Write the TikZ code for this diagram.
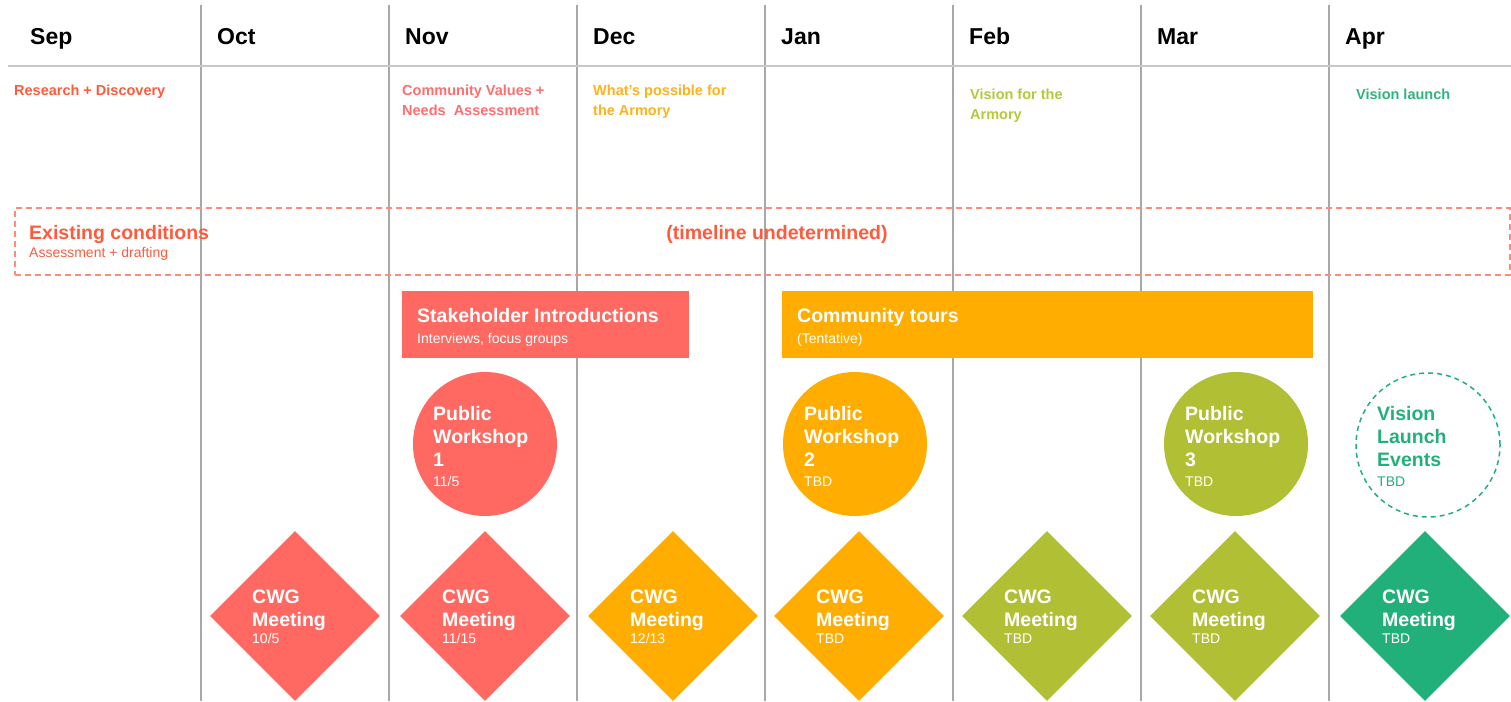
\documentclass[tikz,border=0pt]{standalone}
\usepackage{fontspec}
\setmainfont{Liberation Sans}
\usetikzlibrary{shapes.geometric,calc}
\definecolor{cCoral}{HTML}{FF6961}
\definecolor{cAmber}{HTML}{FFAD00}
\definecolor{cOlive}{HTML}{B0BF33}
\definecolor{cGreen}{HTML}{22B07A}
\definecolor{cGrid}{HTML}{A8A8A8}
\definecolor{cRule}{HTML}{C8C8C8}
\definecolor{tRed}{HTML}{FF5A3C}
\definecolor{tPink}{HTML}{FF6E6E}
\definecolor{tAmber}{HTML}{FFB21A}
\definecolor{tOlive}{HTML}{B5C83A}
\definecolor{tGreen}{HTML}{2CB57F}
\definecolor{cDash}{HTML}{FF8C7A}
\tikzset{
  month/.style={font=\fontsize{23}{27}\selectfont\bfseries, anchor=base west, inner sep=0},
  phase/.style={font=\fontsize{14.5}{20}\selectfont\bfseries, anchor=base west, align=left, inner sep=0},
  gridline/.style={draw=cGrid, line width=1.5pt},
  wlabel/.style={text=white, font=\fontsize{19.5}{23}\selectfont\bfseries, align=left, anchor=base west, inner sep=0},
  small/.style={font=\fontsize{14}{16}\selectfont, anchor=base west, inner sep=0},
  workshop/.style={circle, minimum size=144pt, inner sep=0},
  cwg/.style={diamond, minimum width=170pt, minimum height=170pt, inner sep=0},
  bar/.style={rectangle, anchor=north west, inner sep=0},
  bartitle/.style={anchor=base west, inner sep=0, font=\fontsize{19.5}{23}\selectfont\bfseries}
}
\begin{document}
\begin{tikzpicture}[x=1pt,y=-1pt]
\useasboundingbox (0,0) rectangle (1511,701);
% grid
\foreach \gx in {201,389,577,765,953,1141,1329}{
  \draw[gridline] (\gx,5) -- (\gx,701);
}
\draw[draw=cRule, line width=2.5pt] (8,66) -- (1511,66);
% months
\node[month] (m1) at (30,45) {Sep};
\node[month] (m2) at (217,45) {Oct};
\node[month] (m3) at (405,45) {Nov};
\node[month] (m4) at (593,45) {Dec};
\node[month] (m5) at (781,45) {Jan};
\node[month] (m6) at (969,45) {Feb};
\node[month] (m7) at (1157,45) {Mar};
\node[month] (m8) at (1345,45) {Apr};
% phases (base = last line baseline)
\node[phase, text=tRed] (p1) at (14,95) {Research + Discovery};
\node[phase, text=tPink] (p2) at (402,115) {Community Values +\\Needs~~Assessment};
\node[phase, text=tAmber] (p3) at (593,115) {What’s possible for\\the Armory};
\node[phase, text=tOlive] (p4) at (970,119) {Vision for the\\Armory};
\node[phase, text=tGreen] (p5) at (1356,99) {Vision launch};
% existing conditions
\node[draw=cDash, dashed, dash pattern=on 6pt off 4pt, line width=2pt, bar, minimum width=1495pt, minimum height=67pt] (ec) at (14,207) {};
\node[bartitle, text=tRed] (ect) at (29,239) {Existing conditions};
\node[small, text=tRed] (ecs) at (29,257) {Assessment + drafting};
\node[bartitle, anchor=base, text=tRed] (tu) at (777,239) {(timeline undetermined)};
% bars
\node[bar, fill=cCoral, minimum width=287pt, minimum height=67pt] (si) at (402,291) {};
\node[bartitle, text=white] (sit) at (417,322) {Stakeholder Introductions};
\node[small, text=white] (sis) at (417,343) {Interviews, focus groups};
\node[bar, fill=cAmber, minimum width=531pt, minimum height=67pt] (ct) at (782,291) {};
\node[bartitle, text=white] (ctt) at (797,322) {Community tours};
\node[small, text=white] (cts) at (797,343) {(Tentative)};
% workshops
\node[workshop, fill=cCoral] (pw1) at (485,444) {};
\node[workshop, fill=cAmber] (pw2) at (855,444) {};
\node[workshop, fill=cOlive] (pw3) at (1236,444) {};
\node[workshop, draw=cGreen, dashed, dash pattern=on 5pt off 4pt, line width=1.5pt] (vl) at (1428,445) {};
\node[wlabel] (pw1t) at ($(pw1.center)+(-52,22)$) {Public\\Workshop\\1};
\node[small, text=white] (pw1d) at ($(pw1.center)+(-52,42)$) {11/5};
\node[wlabel] (pw2t) at ($(pw2.center)+(-51,22)$) {Public\\Workshop\\2};
\node[small, text=white] (pw2d) at ($(pw2.center)+(-51,42)$) {TBD};
\node[wlabel] (pw3t) at ($(pw3.center)+(-51,22)$) {Public\\Workshop\\3};
\node[small, text=white] (pw3d) at ($(pw3.center)+(-51,42)$) {TBD};
\node[wlabel, text=cGreen] (vlt) at ($(vl.center)+(-51,21)$) {Vision\\Launch\\Events};
\node[small, text=cGreen] (vld) at ($(vl.center)+(-51,41)$) {TBD};
% CWG meetings
\foreach \n/\cx/\col/\dt in {1/295/cCoral/10\slash 5, 2/485/cCoral/11\slash 15, 3/673/cAmber/12\slash 13, 4/859/cAmber/TBD, 5/1047/cOlive/TBD, 6/1235/cOlive/TBD, 7/1425/cGreen/TBD}{
  \node[cwg, fill=\col] (cwg\n) at (\cx,616) {};
  \node[wlabel] (cwgt\n) at ($(cwg\n.center)+(-43,10)$) {CWG\\Meeting};
  \node[small, text=white] (cwgd\n) at ($(cwg\n.center)+(-43,27)$) {\dt};
}
\end{tikzpicture}
\end{document}
